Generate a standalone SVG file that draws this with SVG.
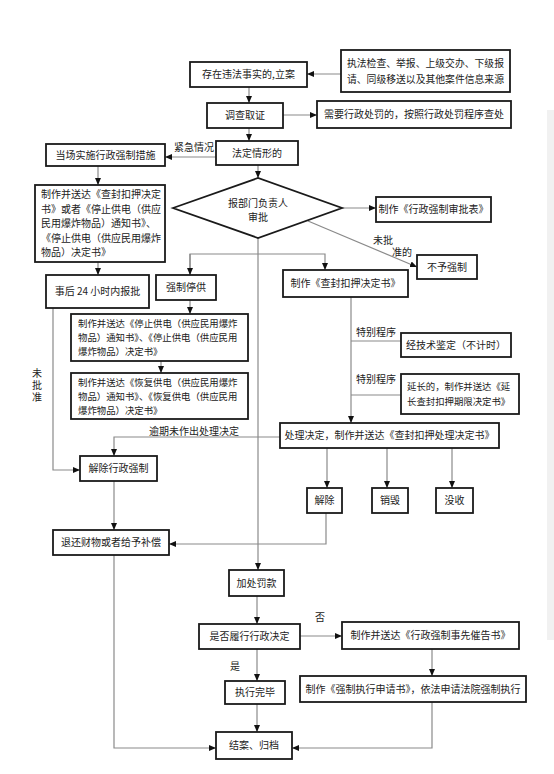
<svg xmlns="http://www.w3.org/2000/svg" width="554" height="774" viewBox="0 0 554 774">
<style>
.box{fill:#fff;stroke:#1a1a1a;stroke-width:1.8}
.t{font-family:"Noto Sans CJK SC","Noto Sans CJK JP",sans-serif;font-size:10px;fill:#222}
.c{text-anchor:middle}
.s{font-size:9.4px}
.ln{fill:none;stroke:#8a8a8a;stroke-width:1.2}
</style>
<defs>
<marker id="ah" markerUnits="userSpaceOnUse" markerWidth="7" markerHeight="6" refX="7" refY="3" orient="auto">
<path d="M0,0 L7,3 L0,6 z" fill="#111"/>
</marker>
</defs>
<rect x="547" y="110" width="7" height="530" fill="#f1f1f1"/>
<g id="connectors">
<path class="ln" d="M341,74 H307" marker-end="url(#ah)"/>
<path class="ln" d="M249,87 V103" marker-end="url(#ah)"/>
<path class="ln" d="M283,115 H317" marker-end="url(#ah)"/>
<path class="ln" d="M249,128 V141" marker-end="url(#ah)"/>
<path class="ln" d="M216,157 H165" marker-end="url(#ah)"/>
<path class="ln" d="M258,165 V178" marker-end="url(#ah)"/>
<path class="ln" d="M98,166 V185" marker-end="url(#ah)"/>
<path class="ln" d="M342,208 H376" marker-end="url(#ah)"/>
<path class="ln" d="M308,221 L417,267" marker-end="url(#ah)"/>
<path class="ln" d="M98,262 V275" marker-end="url(#ah)"/>
<path class="ln" d="M258,238 V570" marker-end="url(#ah)"/>
<path class="ln" d="M190,275 V254 H325 V270" marker-end="url(#ah)"/>
<path class="ln" d="M190,254 V275" marker-end="url(#ah)"/>
<path class="ln" d="M190,300 V314" marker-end="url(#ah)"/>
<path class="ln" d="M161,361 V373" marker-end="url(#ah)"/>
<path class="ln" d="M351,297 V423" marker-end="url(#ah)"/>
<path class="ln" d="M351,341 H401"/>
<path class="ln" d="M351,395 H401"/>
<path class="ln" d="M280,437 H114 V456" marker-end="url(#ah)"/>
<path class="ln" d="M53,308 V470 H80" marker-end="url(#ah)"/>
<path class="ln" d="M114,481 V530" marker-end="url(#ah)"/>
<path class="ln" d="M327,448 V488" marker-end="url(#ah)"/>
<path class="ln" d="M387,448 V488" marker-end="url(#ah)"/>
<path class="ln" d="M452,448 V488" marker-end="url(#ah)"/>
<path class="ln" d="M326,513 V544 H169" marker-end="url(#ah)"/>
<path class="ln" d="M257,596 V624" marker-end="url(#ah)"/>
<path class="ln" d="M300,636 H342" marker-end="url(#ah)"/>
<path class="ln" d="M257,649 V681" marker-end="url(#ah)"/>
<path class="ln" d="M432,649 V676" marker-end="url(#ah)"/>
<path class="ln" d="M257,704 V732" marker-end="url(#ah)"/>
<path class="ln" d="M114,555 V748 H216" marker-end="url(#ah)"/>
<path class="ln" d="M432,702 V748 H292" marker-end="url(#ah)"/>
<text class="t c" x="194" y="151">紧急情况</text>
<text class="t c" x="383" y="244">未批</text>
<text class="t c" x="402" y="256">准的</text>
<text class="t" x="37" y="368" style="writing-mode:vertical-rl;letter-spacing:2px">未批准</text>
<text class="t c" x="376" y="336">特别程序</text>
<text class="t c" x="376" y="383">特别程序</text>
<text class="t c" x="194" y="435">逾期未作出处理决定</text>
<text class="t c" x="320" y="621">否</text>
<text class="t c" x="235" y="670">是</text>
</g>
<g id="n_lian"><rect class="box" x="190" y="62" width="117" height="25"/><text class="t c" x="248.5" y="78">存在违法事实的,立案</text></g>
<g id="n_source"><rect class="box" x="341" y="50" width="169" height="42"/><text class="t" x="347" y="67" textLength="157" lengthAdjust="spacingAndGlyphs">执法检查、举报、上级交办、下级报</text><text class="t" x="347" y="83" textLength="157" lengthAdjust="spacingAndGlyphs">请、同级移送以及其他案件信息来源</text></g>
<g id="n_diaocha"><rect class="box" x="207" y="103" width="76" height="25"/><text class="t c" x="245" y="119">调查取证</text></g>
<g id="n_chufa"><rect class="box" x="317" y="101" width="194" height="27"/><text class="t c" x="414" y="118">需要行政处罚的，按照行政处罚程序查处</text></g>
<g id="n_fading"><rect class="box" x="216" y="141" width="82" height="24"/><text class="t c" x="257" y="156.5">法定情形的</text></g>
<g id="n_dangchang"><rect class="box" x="46" y="144" width="119" height="22"/><text class="t c" x="105.5" y="158.5">当场实施行政强制措施</text></g>
<g id="n_zhizuo1"><rect class="box" x="35" y="185" width="130" height="77"/>
<text class="t" x="41" y="198">制作并送达《查封扣押决定</text>
<text class="t" x="41" y="212.5">书》或者《停止供电（供应</text>
<text class="t" x="41" y="227">民用爆炸物品）通知书》、</text>
<text class="t" x="41" y="241.5">《停止供电（供应民用爆炸</text>
<text class="t" x="41" y="256">物品）决定书》</text></g>
<g id="n_shenpi"><polygon class="box" points="173,208 258,178 342,208 258,238"/><text class="t c" x="258" y="207">报部门负责人</text><text class="t c" x="258" y="221">审批</text></g>
<g id="n_shenpibiao"><rect class="box" x="376" y="197" width="115" height="25"/><text class="t c" x="433.5" y="213">制作《行政强制审批表》</text></g>
<g id="n_buyu"><rect class="box" x="417" y="255" width="60" height="24"/><text class="t c" x="447" y="270.5">不予强制</text></g>
<g id="n_shihou"><rect class="box" x="46" y="275" width="103" height="33"/><text class="t c" x="97.5" y="295">事后 24 小时内报批</text></g>
<g id="n_tinggong"><rect class="box" x="156" y="275" width="60" height="25"/><text class="t c" x="186" y="291">强制停供</text></g>
<g id="n_chafeng"><rect class="box" x="283" y="270" width="125" height="27"/><text class="t c" x="345.5" y="287">制作《查封扣押决定书》</text></g>
<g id="n_tingzhi"><rect class="box" x="71" y="314" width="177" height="47"/>
<text class="t s" x="78" y="327">制作并送达《停止供电（供应民用爆炸</text>
<text class="t s" x="78" y="341">物品）通知书》、《停止供电（供应民用</text>
<text class="t s" x="78" y="355">爆炸物品）决定书》</text></g>
<g id="n_huifu"><rect class="box" x="71" y="373" width="177" height="46"/>
<text class="t s" x="78" y="386">制作并送达《恢复供电（供应民用爆炸</text>
<text class="t s" x="78" y="400">物品）通知书》、《恢复供电（供应民用</text>
<text class="t s" x="78" y="414">爆炸物品）决定书》</text></g>
<g id="n_jianding"><rect class="box" x="401" y="333" width="110" height="24"/><text class="t c" x="456" y="348.5">经技术鉴定（不计时）</text></g>
<g id="n_yanchang"><rect class="box" x="401" y="374" width="118" height="40"/><text class="t s" x="407" y="390">延长的，制作并送达《延</text><text class="t s" x="407" y="405">长查封扣押期限决定书》</text></g>
<g id="n_chuli"><rect class="box" x="280" y="423" width="219" height="25"/><text class="t c" x="389.5" y="439">处理决定，制作并送达《查封扣押处理决定书》</text></g>
<g id="n_jiechu_qz"><rect class="box" x="80" y="456" width="77" height="25"/><text class="t c" x="118.5" y="472">解除行政强制</text></g>
<g id="n_jiechu"><rect class="box" x="307" y="488" width="35" height="25"/><text class="t c" x="324.5" y="504">解除</text></g>
<g id="n_xiaohui"><rect class="box" x="372" y="488" width="36" height="25"/><text class="t c" x="390" y="504">销毁</text></g>
<g id="n_moshou"><rect class="box" x="436" y="488" width="37" height="25"/><text class="t c" x="454.5" y="504">没收</text></g>
<g id="n_tuihuan"><rect class="box" x="53" y="530" width="116" height="25"/><text class="t c" x="111" y="546">退还财物或者给予补偿</text></g>
<g id="n_fakuan"><rect class="box" x="229" y="570" width="55" height="26"/><text class="t c" x="256.5" y="586.5">加处罚款</text></g>
<g id="n_lvxing"><rect class="box" x="199" y="624" width="101" height="25"/><text class="t c" x="249.5" y="640">是否履行行政决定</text></g>
<g id="n_cuigao"><rect class="box" x="342" y="622" width="177" height="27"/><text class="t c" x="430.5" y="639">制作并送达《行政强制事先催告书》</text></g>
<g id="n_wanbi"><rect class="box" x="225" y="681" width="60" height="23"/><text class="t c" x="255" y="696">执行完毕</text></g>
<g id="n_shenqing"><rect class="box" x="300" y="676" width="226" height="26"/><text class="t c" x="413" y="692.5">制作《强制执行申请书》，依法申请法院强制执行</text></g>
<g id="n_jiean"><rect class="box" x="216" y="732" width="76" height="27"/><text class="t c" x="254" y="749">结案、归档</text></g>
</svg>
